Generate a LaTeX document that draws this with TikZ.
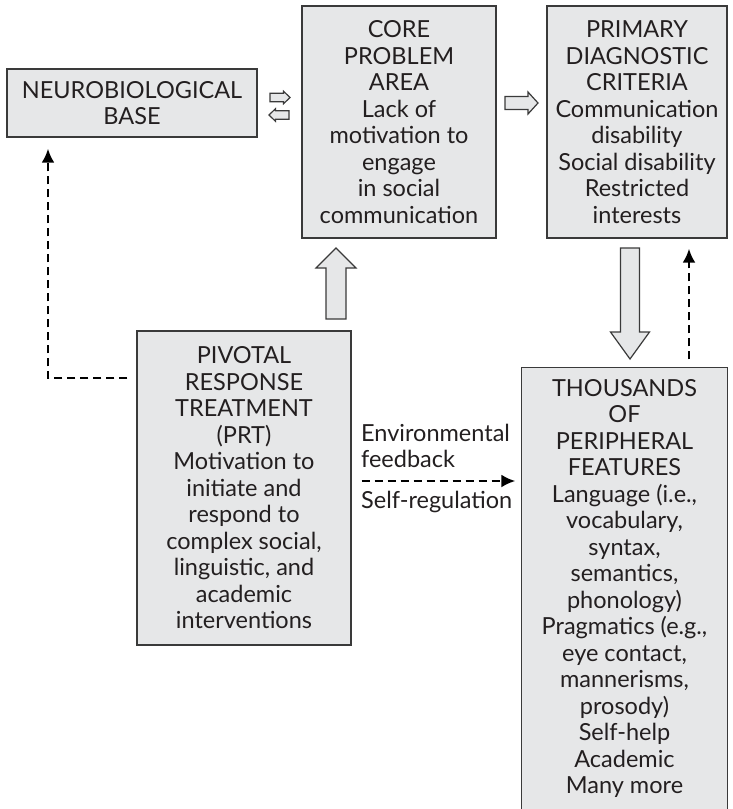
\documentclass[tikz,border=0pt]{standalone}
\usepackage{fontspec}
\setmainfont{Lato}
\usetikzlibrary{arrows.meta,calc}
\definecolor{boxfill}{HTML}{E6E7E8}
\definecolor{edge}{HTML}{3A3A3A}
\definecolor{ink}{HTML}{231F20}
\newcommand{\blockarr}[6]{\draw[blk, shift={#1}, rotate=#2] (0,-#4) -- ({#3-#6},-#4) -- ({#3-#6},-#5) -- (#3,0) -- ({#3-#6},#5) -- ({#3-#6},#4) -- (0,#4) -- cycle;}
\begin{document}
\begin{tikzpicture}[x=1pt,y=-1pt,
  txt/.style={text=ink, font=\fontsize{23.5}{26.5}\selectfont, inner sep=0pt},
  box/.style={txt, draw=edge, line width=1.3pt, fill=boxfill, align=center},
  blk/.style={draw=edge, line width=1.2pt, fill=boxfill, line join=miter},
  dasharr/.style={draw=black, line width=2.6pt, dash pattern=on 8pt off 5pt, -{Latex[length=14pt,width=13pt]}},
  lbl/.style={txt, align=left}]
\useasboundingbox (0,0) rectangle (733,809);

\node[box, minimum width=250pt, minimum height=68pt] (neuro) at (132,103) {NEUROBIOLOGICAL\\BASE};
\node[box, minimum width=194pt, minimum height=232pt] (core) at (399,122) {CORE\\PROBLEM\\AREA\\Lack of\\motivation to\\engage\\in social\\communication};
\node[box, minimum width=180pt, minimum height=232pt] (prim) at (637,122) {PRIMARY\\DIAGNOSTIC\\CRITERIA\\Communication\\disability\\Social disability\\Restricted\\interests};
\node[box, minimum width=214pt, minimum height=314pt] (prt) at (244,488) {PIVOTAL\\RESPONSE\\TREATMENT\\(PRT)\\Motivation to\\initiate and\\respond to\\complex social,\\linguistic, and\\academic\\interventions};
\node[box, draw=none, minimum width=205pt, minimum height=441pt] (thou) at (624.5,588.5) {THOUSANDS\\OF\\PERIPHERAL\\FEATURES\\Language (i.e.,\\vocabulary,\\syntax,\\semantics,\\phonology)\\Pragmatics (e.g.,\\eye contact,\\mannerisms,\\prosody)\\Self-help\\Academic\\Many more};
\draw[draw=edge, line width=1.3pt] (thou.south west) -- (thou.north west) -- (thou.north east) -- (thou.south east);

% block arrows
\blockarr{(270,97.5)}{0}{20}{4.3}{6.3}{6.5}
\blockarr{(289,115)}{180}{20}{4.3}{6.3}{6.5}
\blockarr{(505,103)}{0}{33}{6.5}{11}{10}
\blockarr{(336,319)}{90}{71}{10}{20}{20}
\blockarr{(630,248)}{-90}{111}{9.5}{19.5}{27}

% dashed arrows
\coordinate (h) at (0,378);
\coordinate (vx) at (48,0);
\draw[dasharr, shorten <=9pt, shorten >=11pt] (prt.west |- h) -- (vx |- h) -- (vx |- neuro.south);
\coordinate (fb) at (0,481);
\draw[dasharr, shorten <=10pt, shorten >=6pt] (prt.east |- fb) -- (thou.west |- fb);
\coordinate (ux) at (689,0);
\draw[dasharr, shorten <=8pt, shorten >=10pt] (ux |- thou.north) -- (ux |- prim.south);

\node[lbl, anchor=west] (env) at (361,446) {Environmental\\feedback};
\node[lbl, anchor=west] (selfreg) at (361,502) {Self-regulation};
\end{tikzpicture}
\end{document}
